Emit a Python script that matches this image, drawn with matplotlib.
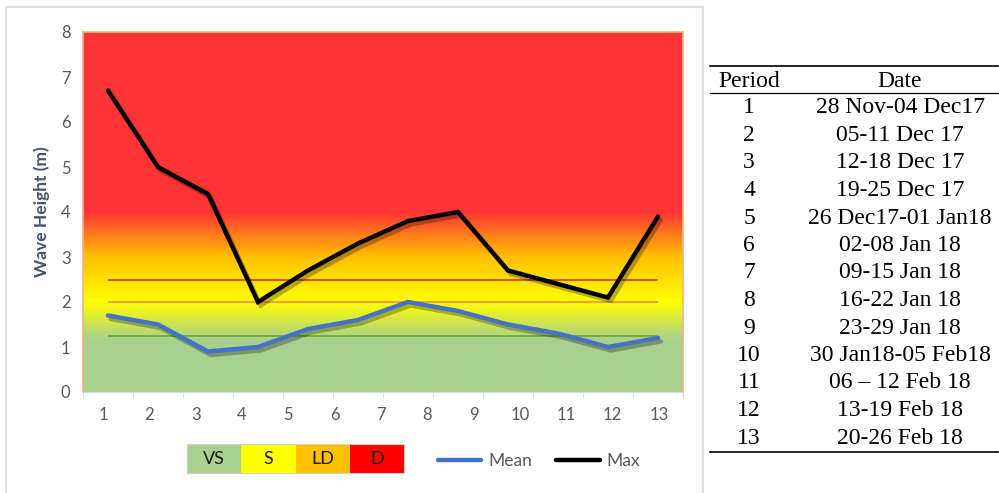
import numpy as np
import matplotlib
matplotlib.use("Agg")
import matplotlib.pyplot as plt
from matplotlib.colors import LinearSegmentedColormap
from matplotlib.lines import Line2D
from matplotlib.patches import Rectangle
import matplotlib.patheffects as pe

# ---------------- data ----------------
periods = list(range(1, 13))                 # plotted points (12 categories)
tick_labels = [str(i) for i in range(1, 14)] # x tick labels shown 1..13
mean_height = [1.7, 1.5, 0.9, 1.0, 1.4, 1.6, 2.0, 1.8, 1.5, 1.3, 1.0, 1.2]
max_height = [6.7, 5.0, 4.4, 2.0, 2.7, 3.3, 3.8, 4.0, 2.7, 2.4, 2.1, 3.9]
thresholds = [2.5, 2.0, 1.25]
threshold_colors = ["#D9480F", "#F79646", "#6AAE3A"]
zone_labels = ["VS", "S", "LD", "D"]
zone_colors = ["#A9D18E", "#FFFF00", "#FFC000", "#FF0000"]
table_periods = [str(i) for i in range(1, 14)]
table_dates = ["28 Nov-04 Dec17", "05-11 Dec 17", "12-18 Dec 17", "19-25 Dec 17",
               "26 Dec17-01 Jan18", "02-08 Jan 18", "09-15 Jan 18", "16-22 Jan 18",
               "23-29 Jan 18", "30 Jan18-05 Feb18", "06 \u2013 12 Feb 18",
               "13-19 Feb 18", "20-26 Feb 18"]

W, H = 999, 493
fig = plt.figure(figsize=(W / 100, H / 100), dpi=100)

def fx(px):
    return px / W

def fy(py):
    return 1 - py / H

# chart frame
fig.patches.append(Rectangle((fx(6), fy(520)), fx(697), fy(7) - fy(520),
                             transform=fig.transFigure, fill=False,
                             edgecolor="#DDE2E8", lw=1.5, zorder=0))

ax = fig.add_axes([fx(83), fy(392), fx(600), fy(32) - fy(392)])
ymax = 8
# gradient background
cmap = LinearSegmentedColormap.from_list(
    "zones",
    [(0.0, "#A9D18E"), (1.15 / ymax, "#A9D18E"), (2.0 / ymax, "#FFFF00"),
     (3.0 / ymax, "#FFC000"), (4.0 / ymax, "#FF3535"), (1.0, "#FF3535")])
grad = np.linspace(0, 1, 400).reshape(-1, 1)
ax.imshow(grad, extent=[0.5, 12.5, 0, ymax], origin="lower", aspect="auto",
          cmap=cmap, zorder=0)

ax.hlines(thresholds, periods[0], periods[-1], colors=threshold_colors, lw=1.3, zorder=2)

shadow = [pe.SimpleLineShadow(offset=(2, -2.5), shadow_color="black", alpha=0.28),
          pe.Normal()]
ax.plot(periods, mean_height, color="#4472C4", lw=3.2, solid_capstyle="round",
        solid_joinstyle="miter", path_effects=shadow, zorder=3, label="Mean")
ax.plot(periods, max_height, color="black", lw=3.2, solid_capstyle="round",
        solid_joinstyle="miter", path_effects=shadow, zorder=4, label="Max")

ax.set_xlim(0.5, 12.5)
ax.set_ylim(0, ymax)
ax.set_yticks(range(0, 9))
ax.tick_params(axis="y", length=0, pad=9, labelsize=12, labelcolor="#595959")
tick_pos = 0.5 + (np.linspace(103, 659, len(tick_labels)) - 83) / 50
ax.set_xticks(tick_pos)
ax.set_xticklabels(tick_labels)
ax.tick_params(axis="x", which="major", length=0, pad=11, labelsize=12,
               labelcolor="#595959")
ax.set_xticks(np.arange(0.5, 12.6, 1), minor=True)
ax.tick_params(axis="x", which="minor", length=4, color="#D9D9D9", direction="out")
for lbl in ax.get_xticklabels() + ax.get_yticklabels():
    lbl.set_fontfamily("Lato")
for side in ["left", "right", "top"]:
    ax.spines[side].set_color("#F4B183")
    ax.spines[side].set_linewidth(1.2)
ax.spines["bottom"].set_color("#D9D9D9")
ax.set_ylabel("Wave Height (m)", fontsize=12.5, fontweight="bold", color="#44546A",
              fontfamily="Lato", labelpad=8)

# zone legend
axl = fig.add_axes([fx(187), fy(473), fx(217), fy(444) - fy(473)])
axl.bar(range(len(zone_labels)), [1] * len(zone_labels), width=1.0,
        color=zone_colors, edgecolor="none")
for i, z in enumerate(zone_labels):
    axl.text(i, 0.5, z, ha="center", va="center", fontsize=13, color="#1A1A1A",
             fontfamily="Lato")
axl.set_xlim(-0.5, len(zone_labels) - 0.5)
axl.set_ylim(0, 1)
axl.set_xticks([])
axl.set_yticks([])
for s in axl.spines.values():
    s.set_color("#D0D0D0")

# line legend
handles = [Line2D([], [], color="#4472C4", lw=3.2, solid_capstyle="round"),
           Line2D([], [], color="black", lw=3.2, solid_capstyle="round")]
leg = fig.legend(handles, ["Mean", "Max"], loc="center left",
                 bbox_to_anchor=(fx(422), fy(461)), ncol=2, frameon=False,
                 handlelength=2.5, handletextpad=0.4, columnspacing=1.4,
                 prop={"family": "Lato", "size": 12.5})
for t in leg.get_texts():
    t.set_color("#595959")

# date table
serif = "Liberation Serif"
fs = 17
x0, x1 = 710, 998
for yy, lw in [(66, 1.2), (93, 0.9), (452, 1.2)]:
    fig.add_artist(Line2D([fx(x0), fx(x1)], [fy(yy), fy(yy)], color="black",
                          lw=lw, transform=fig.transFigure))
fig.text(fx(749), fy(81), "Period", ha="center", va="center", fontsize=fs,
         fontfamily=serif)
fig.text(fx(900), fy(81), "Date", ha="center", va="center", fontsize=fs,
         fontfamily=serif)
for k, (p, d) in enumerate(zip(table_periods, table_dates)):
    yy = 108 + k * 27.5
    fig.text(fx(749), fy(yy), p, ha="center", va="center", fontsize=fs,
             fontfamily=serif)
    fig.text(fx(900), fy(yy), d, ha="center", va="center", fontsize=fs,
             fontfamily=serif)

fig.savefig("out.png", dpi=100)
